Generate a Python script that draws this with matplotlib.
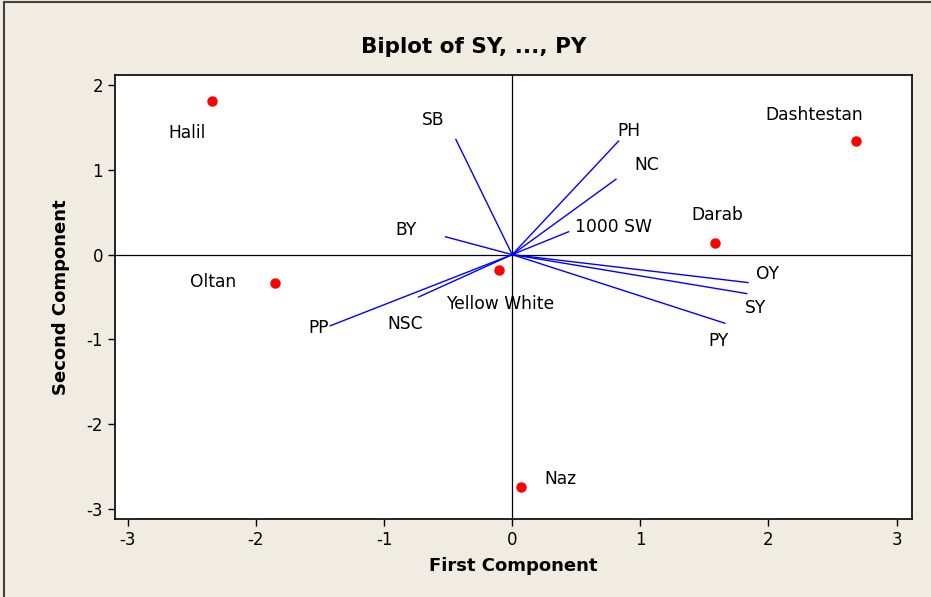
import matplotlib.pyplot as plt
from matplotlib.patches import Rectangle

plt.rcParams['axes.unicode_minus'] = False

# 观测值（品种）得分
genotypes = ['Halil', 'Oltan', 'Yellow White', 'Naz', 'Darab', 'Dashtestan']
pc1_scores = [-2.34, -1.85, -0.10, 0.07, 1.58, 2.68]
pc2_scores = [1.81, -0.34, -0.18, -2.74, 0.14, 1.34]

# 变量载荷向量
traits = ['SB', 'BY', 'PP', 'NSC', 'PH', 'NC', '1000 SW', 'OY', 'SY', 'PY']
pc1_loads = [-0.44, -0.52, -1.42, -0.73, 0.83, 0.81, 0.44, 1.84, 1.83, 1.66]
pc2_loads = [1.36, 0.21, -0.84, -0.50, 1.34, 0.89, 0.27, -0.33, -0.46, -0.81]

# 标签偏移（像素）
geno_off = [(-25, -32), (-62, 1), (1, -34), (39, 8), (3, 28), (-41, 26)]
trait_off = [(-23, 19), (-40, 7), (-12, -2), (-13, -27), (10, 10),
             (31, 14), (45, 5), (20, 9), (9, -14), (-6, -18)]

bg = '#F0ECE2'
fig = plt.figure(figsize=(9.31, 5.97), dpi=100, facecolor=bg)
ax = fig.add_axes([0.1235, 0.1307, 0.8561, 0.7437])
ax.set_facecolor('white')

ax.axhline(0, color='black', lw=0.9, zorder=1)
ax.axvline(0, color='black', lw=0.9, zorder=1)

for i, t in enumerate(traits):
    ax.plot([0, pc1_loads[i]], [0, pc2_loads[i]], color='#0000FF', lw=1.0, zorder=2)
    ax.annotate(t, (pc1_loads[i], pc2_loads[i]), xytext=trait_off[i],
                textcoords='offset pixels', ha='center', va='center', fontsize=12.3)

ax.plot(pc1_scores, pc2_scores, 'o', color='red', ms=6.5, zorder=3)
for i, g in enumerate(genotypes):
    ax.annotate(g, (pc1_scores[i], pc2_scores[i]), xytext=geno_off[i],
                textcoords='offset pixels', ha='center', va='center', fontsize=12.3)

ax.set_xlim(-3.10, 3.12)
ax.set_ylim(-3.12, 2.12)
ax.set_xticks([-3, -2, -1, 0, 1, 2, 3])
ax.set_yticks([-3, -2, -1, 0, 1, 2])
ax.tick_params(labelsize=12, length=5, width=1, direction='out')
for s in ax.spines.values():
    s.set_linewidth(1.2)

ax.set_xlabel('First Component', fontsize=13, fontweight='bold', labelpad=6)
ax.set_ylabel('Second Component', fontsize=13, fontweight='bold', labelpad=12)
fig.text(0.509, 0.921, 'Biplot of SY, ..., PY', ha='center', va='center',
         fontsize=15.5, fontweight='bold')

# 外框
fig.patches.append(Rectangle((0.004, -0.01), 1.1, 1.006, transform=fig.transFigure,
                             fill=False, edgecolor='#404040', lw=1.5))

fig.savefig('out.png', dpi=100, facecolor=bg)
